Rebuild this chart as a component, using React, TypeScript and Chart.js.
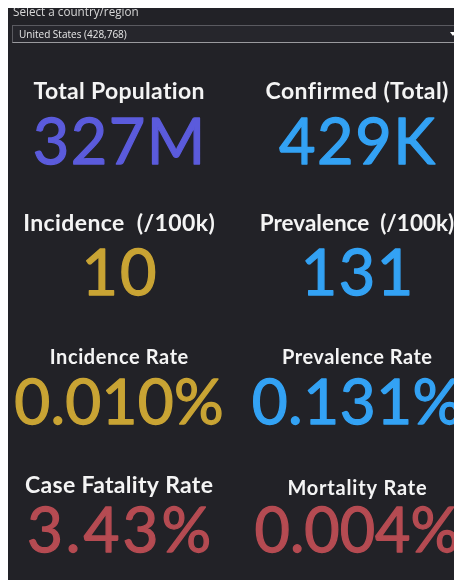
import React, { useEffect, useRef } from "react";
import { Chart, registerables } from "chart.js";

Chart.register(...registerables);

// ---- data ----
const selectLabel = "Select a country/region";
const selectedCountry = "United States (428,768)";
const titles = [
  "Total Population",
  "Confirmed (Total)",
  "Incidence  (/100k)",
  "Prevalence  (/100k)",
  "Incidence Rate",
  "Prevalence Rate",
  "Case Fatality Rate",
  "Mortality Rate",
];
const values = ["327M", "429K", "10", "131", "0.010%", "0.131%", "3.43%", "0.004%"];
const columns = [0, 1, 0, 1, 0, 1, 0, 1];
const rows = [0, 0, 1, 1, 2, 2, 3, 3];

// ---- styles ----
const valueColors = ["#5b5bdc", "#33a2f4", "#c9a434", "#33a2f4", "#c9a434", "#33a2f4", "#b54b52", "#b54b52"];
const titleSizes = [23, 23, 23, 22.5, 20, 20, 23, 20];
const titleSpacing = [0.3, 0.4, 0.4, 0, 0.6, 0.5, 0.3, 0.8];
const titleGaps = [65, 65, 64, 64, 60, 60, 59, 57];
const valueSizes = [63, 63, 63, 63, 62, 62, 62, 61];
const valueSpacing = [1.5, 1.5, 2, 1.5, 0.3, 0.5, 3, 0];
const rowNudges = [0, 1.7, 1.3, 0];
const BG = "#222227";
const FONT = "Lato, 'Noto Sans', sans-serif";

const kpiTextPlugin = {
  id: "kpiText",
  afterDatasetsDraw(chart: any) {
    const ctx = chart.ctx;
    const meta = chart.getDatasetMeta(0);
    ctx.save();
    ctx.textAlign = "center";
    ctx.textBaseline = "alphabetic";
    meta.data.forEach((pt: any, i: number) => {
      const x = pt.x;
      const y = pt.y + rowNudges[rows[i]];
      ctx.fillStyle = "#f4f4f4";
      ctx.font = `bold ${titleSizes[i]}px ${FONT}`;
      ctx.letterSpacing = `${titleSpacing[i]}px`;
      ctx.fillText(titles[i], x + titleSpacing[i] / 2, y - titleGaps[i]);
      ctx.fillStyle = valueColors[i];
      ctx.strokeStyle = valueColors[i];
      ctx.lineWidth = 1.3;
      ctx.lineJoin = "round";
      ctx.font = `${valueSizes[i]}px ${FONT}`;
      ctx.letterSpacing = `${valueSpacing[i]}px`;
      ctx.fillText(values[i], x + valueSpacing[i] / 2, y);
      ctx.strokeText(values[i], x + valueSpacing[i] / 2, y);
    });
    ctx.restore();
  },
};

export default function App() {
  const canvasRef = useRef<HTMLCanvasElement | null>(null);

  useEffect(() => {
    if (!canvasRef.current) return;
    const chart = new Chart(canvasRef.current, {
      type: "scatter",
      data: {
        datasets: [
          {
            data: values.map((_, i) => ({ x: columns[i], y: rows[i] })),
            pointRadius: 0,
            pointHoverRadius: 0,
          },
        ],
      },
      options: {
        animation: false,
        responsive: false,
        maintainAspectRatio: false,
        events: [],
        layout: { padding: { left: 1.5, right: 0.3, top: 78.4, bottom: 2.1 } },
        plugins: { legend: { display: false }, tooltip: { enabled: false }, title: { display: false } },
        scales: {
          x: { type: "linear", display: false, min: -0.46, max: 1.44 },
          y: { type: "linear", display: false, min: -0.6, max: 3.2, reverse: true },
        },
      },
      plugins: [kpiTextPlugin],
    });
    return () => chart.destroy();
  }, []);

  return (
    <div
      style={{
        position: "relative",
        width: 454,
        height: 572,
        background: BG,
        overflow: "hidden",
        fontFamily: FONT,
      }}
    >
      <canvas
        ref={canvasRef}
        width={454}
        height={572}
        style={{ position: "absolute", left: 0, top: 0, width: 454, height: 572 }}
      />
      <div
        style={{
          position: "absolute",
          left: 5,
          top: -5,
          fontSize: 11.7,
          color: "#d6d6d6",
          fontFamily: "'Open Sans', sans-serif",
          lineHeight: "16px",
          whiteSpace: "nowrap",
        }}
      >
        {selectLabel}
      </div>
      <div
        style={{
          position: "absolute",
          left: 4,
          top: 17,
          width: 450,
          height: 16,
          background: "#26262c",
          borderTop: "1px solid #5a5a60",
          borderBottom: "1px solid #9a9a9e",
          borderLeft: "1px solid #5a5a60",
          borderRight: "none",
          boxSizing: "content-box",
        }}
      >
        <div
          style={{
            position: "absolute",
            left: 6,
            top: 0,
            fontSize: 10,
            lineHeight: "16px",
            color: "#e8e8e8",
            fontFamily: "'Open Sans', sans-serif",
            whiteSpace: "nowrap",
          }}
        >
          {selectedCountry}
        </div>
        <div
          style={{
            position: "absolute",
            left: 437,
            top: 6,
            width: 0,
            height: 0,
            borderLeft: "3px solid transparent",
            borderRight: "3px solid transparent",
            borderTop: "4px solid #ffffff",
          }}
        />
      </div>
    </div>
  );
}
